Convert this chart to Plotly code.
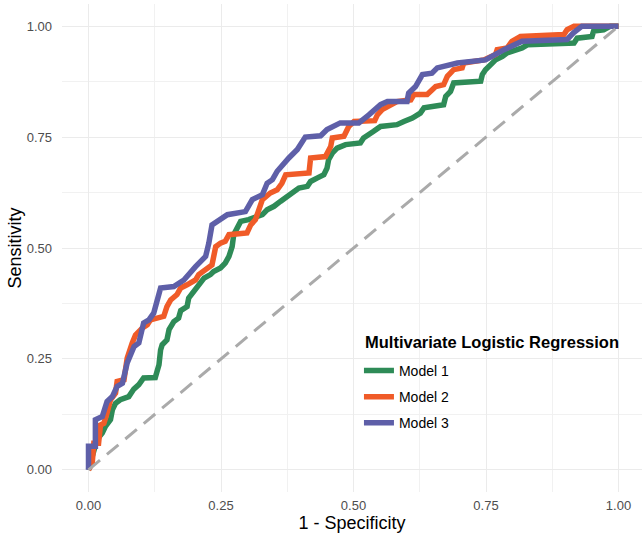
import plotly.graph_objects as go

# ---- data ----
model1_fpr = [0, 0.004, 0.010, 0.016, 0.026, 0.032, 0.0415, 0.045, 0.051, 0.060, 0.076, 0.0855, 0.095, 0.104,
              0.126, 0.133, 0.136, 0.139, 0.148, 0.152, 0.161, 0.170, 0.174, 0.186, 0.189, 0.202, 0.211, 0.218,
              0.230, 0.236, 0.249, 0.258, 0.265, 0.271, 0.274, 0.281, 0.287, 0.302, 0.318, 0.328, 0.337, 0.350,
              0.362, 0.375, 0.387, 0.397, 0.413, 0.419, 0.432, 0.444, 0.450, 0.453, 0.460, 0.469, 0.485, 0.513,
              0.519, 0.526, 0.538, 0.551, 0.582, 0.595, 0.611, 0.626, 0.633, 0.670, 0.674, 0.683, 0.686, 0.689,
              0.740, 0.743, 0.749, 0.758, 0.768, 0.781, 0.790, 0.818, 0.828, 0.916, 0.922, 0.950, 0.953, 0.972,
              0.985, 1.0]
model1_tpr = [0, 0.020, 0.038, 0.068, 0.083, 0.098, 0.113, 0.135, 0.150, 0.158, 0.165, 0.182, 0.192, 0.207,
              0.208, 0.237, 0.270, 0.282, 0.293, 0.316, 0.334, 0.342, 0.359, 0.368, 0.387, 0.406, 0.421, 0.432,
              0.440, 0.447, 0.455, 0.466, 0.481, 0.503, 0.530, 0.549, 0.560, 0.564, 0.571, 0.575, 0.586, 0.594,
              0.605, 0.616, 0.624, 0.635, 0.639, 0.650, 0.658, 0.665, 0.680, 0.699, 0.714, 0.725, 0.733, 0.737,
              0.748, 0.755, 0.763, 0.774, 0.778, 0.785, 0.793, 0.804, 0.816, 0.823, 0.842, 0.853, 0.864, 0.872,
              0.876, 0.891, 0.902, 0.914, 0.924, 0.932, 0.940, 0.951, 0.958, 0.962, 0.973, 0.977, 0.989, 0.992,
              1.0, 1.0]

model2_fpr = [0, 0.007, 0.010, 0.019, 0.0226, 0.029, 0.035, 0.0415, 0.051, 0.054, 0.067, 0.073, 0.0825, 0.0887,
              0.101, 0.111, 0.117, 0.142, 0.148, 0.155, 0.167, 0.174, 0.186, 0.202, 0.208, 0.221, 0.233, 0.240,
              0.249, 0.258, 0.265, 0.299, 0.306, 0.315, 0.328, 0.343, 0.356, 0.365, 0.372, 0.416, 0.419, 0.447,
              0.457, 0.460, 0.482, 0.491, 0.501, 0.540, 0.545, 0.554, 0.564, 0.582, 0.608, 0.614, 0.639, 0.645,
              0.655, 0.670, 0.677, 0.689, 0.705, 0.708, 0.746, 0.768, 0.771, 0.790, 0.799, 0.815, 0.897, 0.903,
              0.916, 1.0]
model2_tpr = [0, 0.015, 0.060, 0.060, 0.101, 0.105, 0.128, 0.158, 0.173, 0.199, 0.203, 0.252, 0.286, 0.304,
              0.319, 0.327, 0.338, 0.346, 0.368, 0.383, 0.395, 0.410, 0.417, 0.428, 0.440, 0.451, 0.462, 0.503,
              0.511, 0.515, 0.530, 0.534, 0.552, 0.564, 0.609, 0.624, 0.631, 0.646, 0.665, 0.669, 0.703, 0.706,
              0.729, 0.748, 0.752, 0.774, 0.785, 0.787, 0.800, 0.812, 0.819, 0.830, 0.834, 0.846, 0.846, 0.853,
              0.864, 0.868, 0.887, 0.902, 0.906, 0.917, 0.924, 0.936, 0.947, 0.951, 0.966, 0.977, 0.981, 0.992,
              1.0, 1.0]

model3_fpr = [0, 0, 0.013, 0.013, 0.026, 0.035, 0.045, 0.054, 0.064, 0.073, 0.086, 0.095, 0.104, 0.114, 0.123,
              0.136, 0.161, 0.180, 0.202, 0.221, 0.227, 0.233, 0.262, 0.296, 0.309, 0.328, 0.337, 0.347, 0.356,
              0.369, 0.378, 0.394, 0.403, 0.409, 0.438, 0.450, 0.475, 0.510, 0.529, 0.551, 0.564, 0.601, 0.604,
              0.617, 0.630, 0.648, 0.658, 0.667, 0.696, 0.749, 0.771, 0.784, 0.818, 0.903, 0.915, 0.931, 1.0]
model3_tpr = [0, 0.053, 0.053, 0.113, 0.120, 0.154, 0.165, 0.188, 0.195, 0.241, 0.278, 0.286, 0.331, 0.338, 0.353,
              0.410, 0.413, 0.428, 0.458, 0.481, 0.511, 0.552, 0.575, 0.582, 0.609, 0.620, 0.646, 0.654, 0.673,
              0.692, 0.703, 0.722, 0.737, 0.750, 0.753, 0.767, 0.782, 0.782, 0.800, 0.823, 0.830, 0.830, 0.849,
              0.864, 0.891, 0.894, 0.906, 0.909, 0.917, 0.924, 0.940, 0.947, 0.966, 0.970, 0.985, 1.0, 1.0]

series_names = ["Model 1", "Model 2", "Model 3"]
series_colors = ["#2E8B57", "#F05B28", "#5E5FA8"]
diag = [0, 1]
tick_vals = [0, 0.25, 0.5, 0.75, 1.0]
tick_text = ["0.00", "0.25", "0.50", "0.75", "1.00"]
legend_title = "Multivariate Logistic Regression"

FONT = "Liberation Sans, Arial, Helvetica, sans-serif"

fig = go.Figure()
for i, (xs, ys) in enumerate([(model1_fpr, model1_tpr), (model2_fpr, model2_tpr), (model3_fpr, model3_tpr)]):
    fig.add_trace(go.Scatter(
        x=xs, y=ys, mode="lines", name=series_names[i], legendgroup=series_names[i],
        line=dict(color=series_colors[i], width=5.5),
    ))

fig.add_trace(go.Scatter(
    x=diag, y=diag, mode="lines", showlegend=False,
    line=dict(color="#AAAAAA", width=3, dash="15px,9px"),
))

axis_common = dict(
    tickvals=tick_vals, ticktext=tick_text, showgrid=True, gridcolor="#EBEBEB", gridwidth=1.2,
    zeroline=False, showline=False, ticks="", automargin=False,
    tickfont=dict(family=FONT, size=13, color="#4D4D4D"),
    minor=dict(dtick=0.125, tick0=0, showgrid=True, gridcolor="#F1F1F1", gridwidth=0.8),
)

fig.update_layout(
    width=642, height=535,
    margin=dict(l=62, r=0, t=4, b=43, autoexpand=False),
    paper_bgcolor="white", plot_bgcolor="white",
    font=dict(family=FONT),
    xaxis=dict(range=[-0.05, 1.0443],
               title=dict(text="1 - Specificity", font=dict(family=FONT, size=18, color="black"), standoff=0),
               ticklabelstandoff=4, **axis_common),
    yaxis=dict(range=[-0.05, 1.05],
               title=dict(text="Sensitivity", font=dict(family=FONT, size=18, color="black"), standoff=0),
               ticklabelstandoff=9, **axis_common),
    legend=dict(
        x=0.512, y=0.281, xanchor="left", yanchor="top",
        bgcolor="rgba(0,0,0,0)", borderwidth=0,
        font=dict(family=FONT, size=14, color="black"),
        tracegroupgap=5, traceorder="grouped",
    ),
    annotations=[dict(
        text="<b>" + legend_title + "</b>", xref="paper", yref="paper",
        x=0.519, y=0.308, xanchor="left", yanchor="middle", showarrow=False,
        font=dict(family=FONT, size=16.5, color="black"),
    )],
)

fig.write_html("out.html", config={"displayModeBar": False},
               post_script="document.body.style.margin='0px';document.body.style.padding='0px';")
